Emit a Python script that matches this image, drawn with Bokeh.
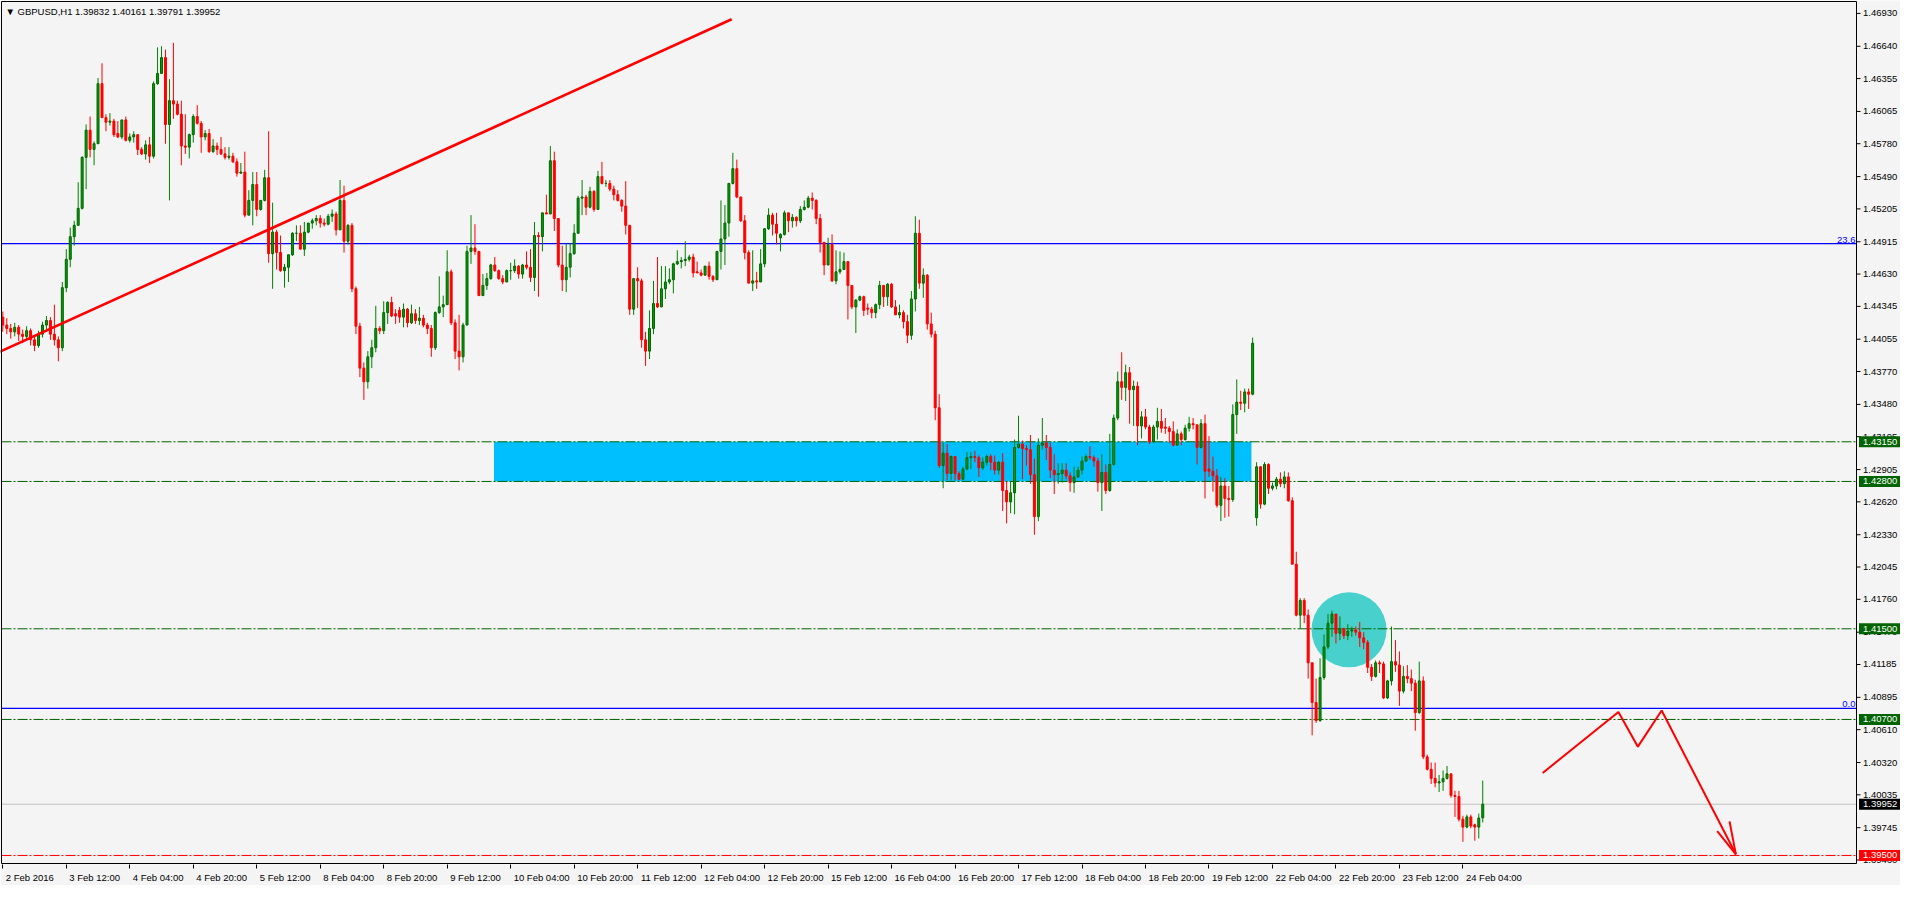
from bokeh.plotting import figure
from bokeh.models import Range1d, FixedTicker, Label, ColumnDataSource
from bokeh.core.properties import value
from bokeh.embed import file_html
from bokeh.resources import INLINE

# ---------------- data (GBPUSD H1) ----------------
opens = [
1.4425,1.4418,1.4415,1.4412,1.4416,1.4410,1.4408,1.4413,1.4405,1.4400,
1.4410,1.4418,1.4422,1.4410,1.4405,1.4398,1.4451,1.4476,1.4496,1.4506,
1.4521,1.4566,1.4590,1.4573,1.4578,1.4631,1.4601,1.4597,1.4598,1.4587,
1.4584,1.4599,1.4581,1.4584,1.4586,1.4573,1.4569,1.4577,1.4567,1.4631,
1.4640,1.4654,1.4595,1.4616,1.4613,1.4604,1.4576,1.4575,1.4586,1.4602,
1.4596,1.4584,1.4587,1.4571,1.4576,1.4573,1.4569,1.4566,1.4567,1.4562,
1.4552,1.4553,1.4515,1.4528,1.4542,1.4520,1.4528,1.4548,1.4481,1.4500,
1.4482,1.4466,1.4469,1.4480,1.4499,1.4499,1.4485,1.4500,1.4508,1.4510,
1.4512,1.4508,1.4507,1.4514,1.4516,1.4502,1.4528,1.4492,1.4506,1.4450,
1.4417,1.4380,1.4368,1.4390,1.4398,1.4415,1.4413,1.4429,1.4438,1.4428,
1.4431,1.4425,1.4432,1.4420,1.4428,1.4422,1.4424,1.4418,1.4415,1.4398,
1.4429,1.4434,1.4436,1.4465,1.4420,1.4395,1.4390,1.4418,1.4483,1.4486,
1.4483,1.4444,1.4453,1.4459,1.4471,1.4466,1.4459,1.4456,1.4466,1.4466,
1.4470,1.4463,1.4471,1.4469,1.4460,1.4497,1.4496,1.4517,1.4516,1.4563,
1.4512,1.4471,1.4458,1.4469,1.4481,1.4499,1.4530,1.4531,1.4522,1.4536,
1.4520,1.4549,1.4543,1.4543,1.4538,1.4533,1.4528,1.4523,1.4506,1.4432,
1.4459,1.4457,1.4405,1.4395,1.4415,1.4437,1.4434,1.4450,1.4456,1.4458,
1.4472,1.4474,1.4475,1.4476,1.4478,1.4465,1.4464,1.4462,1.4470,1.4461,
1.4458,1.4483,1.4494,1.4508,1.4543,1.4556,1.4531,1.4510,1.4482,1.4455,
1.4457,1.4456,1.4472,1.4503,1.4515,1.4507,1.4495,1.4498,1.4517,1.4510,
1.4513,1.4510,1.4520,1.4522,1.4530,1.4528,1.4512,1.4491,1.4471,1.4489,
1.4457,1.4465,1.4467,1.4474,1.4453,1.4434,1.4440,1.4443,1.4433,1.4432,
1.4429,1.4436,1.4453,1.4443,1.4454,1.4434,1.4427,1.4429,1.4421,1.4409,
1.4441,1.4499,1.4455,1.4462,1.4419,1.4410,1.4345,1.4294,1.4305,1.4287,
1.4302,1.4287,1.4282,1.4291,1.4301,1.4302,1.4301,1.4292,1.4297,1.4302,
1.4297,1.4290,1.4297,1.4272,1.4262,1.4270,1.4310,1.4313,1.4309,1.4308,
1.4286,1.4249,1.4312,1.4314,1.4310,1.4290,1.4286,1.4287,1.4290,1.4285,
1.4279,1.4284,1.4290,1.4298,1.4302,1.4301,1.4298,1.4279,1.4288,1.4272,
1.4295,1.4336,1.4368,1.4363,1.4376,1.4361,1.4364,1.4329,1.4337,1.4328,
1.4315,1.4328,1.4333,1.4328,1.4327,1.4324,1.4312,1.4322,1.4317,1.4327,
1.4331,1.4330,1.4310,1.4331,1.4291,1.4289,1.4285,1.4259,1.4276,1.4265,
1.4264,1.4339,1.4350,1.4349,1.4359,1.4357,1.4248,1.4293,1.4260,1.4295,
1.4274,1.4276,1.4282,1.4278,1.4284,1.4263,1.4207,1.4162,1.4175,1.4162,
1.4120,1.4085,1.4069,1.4107,1.4134,1.4155,1.4163,1.4146,1.4150,1.4144,
1.4148,1.4149,1.4147,1.4142,1.4138,1.4116,1.4108,1.4120,1.4119,1.4089,
1.4104,1.4121,1.4118,1.4095,1.4108,1.4106,1.4102,1.4076,1.4104,1.4037,
1.4026,1.4018,1.4014,1.4015,1.4018,1.4022,1.4003,1.4002,1.3982,1.3975,
1.3984,1.3977,1.3975,1.39832]

highs = [
1.4430,1.4424,1.4419,1.4420,1.4418,1.4414,1.4417,1.4415,1.4409,1.4413,
1.4421,1.4426,1.4425,1.4436,1.4408,1.4456,1.4485,1.4504,1.4510,1.4544,
1.4567,1.4595,1.4602,1.4580,1.4636,1.4649,1.4604,1.4605,1.4600,1.4598,
1.4599,1.4602,1.4587,1.4589,1.4586,1.4575,1.4581,1.4584,1.4633,1.4663,
1.4664,1.4661,1.4635,1.4667,1.4616,1.4616,1.4604,1.4587,1.4604,1.4612,
1.4598,1.4590,1.4591,1.4582,1.4579,1.4584,1.4575,1.4575,1.4570,1.4565,
1.4561,1.4571,1.4537,1.4553,1.4553,1.4528,1.4555,1.4589,1.4526,1.4502,
1.4497,1.4472,1.4480,1.4500,1.4506,1.4506,1.4509,1.4508,1.4512,1.4515,
1.4515,1.4512,1.4516,1.4520,1.4518,1.4546,1.4541,1.4507,1.4508,1.4452,
1.4420,1.4385,1.4395,1.4405,1.4435,1.4417,1.4439,1.4439,1.4443,1.4432,
1.4434,1.4437,1.4433,1.4436,1.4432,1.4434,1.4427,1.4420,1.4418,1.4430,
1.4461,1.4444,1.4484,1.4467,1.4423,1.4427,1.4420,1.4488,1.4515,1.4507,
1.4483,1.4463,1.4464,1.4472,1.4478,1.4467,1.4462,1.4467,1.4473,1.4476,
1.4471,1.4472,1.4483,1.4485,1.4509,1.4500,1.4517,1.4533,1.4576,1.4571,
1.4512,1.4488,1.4490,1.4490,1.4507,1.4532,1.4546,1.4533,1.4540,1.4537,
1.4554,1.4562,1.4546,1.4546,1.4541,1.4537,1.4529,1.4545,1.4506,1.4459,
1.4469,1.4459,1.4412,1.4431,1.4457,1.4478,1.4470,1.4470,1.4468,1.4473,
1.4484,1.4478,1.4492,1.4480,1.4481,1.4474,1.4467,1.4470,1.4474,1.4462,
1.4483,1.4528,1.4524,1.4543,1.4570,1.4564,1.4531,1.4515,1.4484,1.4484,
1.4465,1.4485,1.4503,1.4521,1.4517,1.4517,1.4499,1.4519,1.4517,1.4516,
1.4514,1.4523,1.4528,1.4532,1.4535,1.4529,1.4516,1.4491,1.4495,1.4498,
1.4484,1.4483,1.4482,1.4474,1.4453,1.4441,1.4444,1.4444,1.4437,1.4434,
1.4437,1.4457,1.4453,1.4455,1.4455,1.4440,1.4436,1.4431,1.4427,1.4448,
1.4514,1.4511,1.4468,1.4463,1.4429,1.4413,1.4357,1.4314,1.4313,1.4303,
1.4302,1.4289,1.4293,1.4306,1.4306,1.4307,1.4303,1.4301,1.4304,1.4304,
1.4303,1.4298,1.4305,1.4280,1.4280,1.4317,1.4338,1.4316,1.4312,1.4321,
1.4300,1.4318,1.4336,1.4321,1.4314,1.4304,1.4296,1.4296,1.4296,1.4288,
1.4293,1.4293,1.4302,1.4304,1.4311,1.4303,1.4301,1.4304,1.4295,1.4322,
1.4339,1.4377,1.4394,1.4383,1.4381,1.4369,1.4368,1.4342,1.4344,1.4330,
1.4330,1.4345,1.4344,1.4336,1.4329,1.4333,1.4326,1.4324,1.4330,1.4337,
1.4336,1.4330,1.4335,1.4339,1.4320,1.4302,1.4291,1.4284,1.4283,1.4276,
1.4348,1.4370,1.4360,1.4362,1.4362,1.4407,1.4297,1.4293,1.4297,1.4296,
1.4279,1.4284,1.4288,1.4289,1.4288,1.4266,1.4218,1.4177,1.4177,1.4167,
1.4120,1.4106,1.4124,1.4145,1.4163,1.4166,1.4163,1.4161,1.4151,1.4154,
1.4152,1.4152,1.4156,1.4147,1.4140,1.4119,1.4122,1.4122,1.4121,1.4105,
1.4152,1.4140,1.4130,1.4117,1.4118,1.4114,1.4105,1.4121,1.4108,1.4039,
1.4032,1.4032,1.4021,1.4025,1.4029,1.4022,1.4007,1.4007,1.3985,1.3986,
1.3986,1.3978,1.3987,1.40161]

lows = [
1.4412,1.4410,1.4406,1.4408,1.4404,1.4402,1.4405,1.4400,1.4395,1.4398,
1.4407,1.4414,1.4405,1.4400,1.4386,1.4395,1.4447,1.4469,1.4488,1.4506,
1.4520,1.4538,1.4566,1.4559,1.4578,1.4601,1.4589,1.4594,1.4584,1.4583,
1.4582,1.4580,1.4579,1.4579,1.4568,1.4568,1.4564,1.4561,1.4565,1.4630,
1.4640,1.4578,1.4528,1.4600,1.4603,1.4559,1.4569,1.4565,1.4579,1.4595,
1.4570,1.4581,1.4570,1.4570,1.4568,1.4568,1.4564,1.4564,1.4561,1.4549,
1.4552,1.4513,1.4515,1.4506,1.4514,1.4519,1.4527,1.4473,1.4450,1.4467,
1.4465,1.4451,1.4456,1.4479,1.4492,1.4485,1.4479,1.4499,1.4503,1.4506,
1.4504,1.4505,1.4506,1.4509,1.4497,1.4502,1.4482,1.4489,1.4447,1.4410,
1.4372,1.4352,1.4362,1.4380,1.4394,1.4410,1.4410,1.4419,1.4425,1.4419,
1.4420,1.4416,1.4416,1.4419,1.4419,1.4418,1.4416,1.4410,1.4390,1.4396,
1.4428,1.4425,1.4436,1.4418,1.4388,1.4378,1.4385,1.4418,1.4472,1.4480,
1.4444,1.4444,1.4449,1.4458,1.4465,1.4458,1.4454,1.4456,1.4458,1.4464,
1.4459,1.4459,1.4467,1.4456,1.4448,1.4443,1.4483,1.4516,1.4516,1.4501,
1.4469,1.4448,1.4447,1.4460,1.4480,1.4499,1.4515,1.4515,1.4521,1.4518,
1.4520,1.4542,1.4540,1.4536,1.4528,1.4527,1.4518,1.4498,1.4427,1.4427,
1.4433,1.4398,1.4382,1.4388,1.4410,1.4433,1.4434,1.4441,1.4454,1.4446,
1.4471,1.4468,1.4470,1.4474,1.4460,1.4464,1.4461,1.4462,1.4458,1.4456,
1.4458,1.4467,1.4471,1.4496,1.4542,1.4530,1.4509,1.4476,1.4455,1.4448,
1.4450,1.4456,1.4469,1.4502,1.4497,1.4489,1.4483,1.4497,1.4500,1.4504,
1.4505,1.4508,1.4519,1.4521,1.4520,1.4507,1.4482,1.4462,1.4471,1.4456,
1.4454,1.4463,1.4467,1.4423,1.4432,1.4411,1.4439,1.4426,1.4427,1.4424,
1.4424,1.4432,1.4434,1.4435,1.4433,1.4427,1.4424,1.4415,1.4402,1.4405,
1.4430,1.4450,1.4442,1.4414,1.4407,1.4334,1.4292,1.4274,1.4281,1.4281,
1.4281,1.4281,1.4281,1.4290,1.4291,1.4297,1.4284,1.4290,1.4294,1.4290,
1.4286,1.4286,1.4254,1.4243,1.4252,1.4251,1.4309,1.4282,1.4294,1.4278,
1.4233,1.4245,1.4308,1.4299,1.4283,1.4269,1.4278,1.4279,1.4282,1.4271,
1.4270,1.4283,1.4286,1.4297,1.4299,1.4293,1.4271,1.4254,1.4269,1.4271,
1.4294,1.4334,1.4352,1.4351,1.4331,1.4329,1.4312,1.4318,1.4326,1.4313,
1.4314,1.4317,1.4323,1.4322,1.4314,1.4311,1.4312,1.4312,1.4316,1.4324,
1.4326,1.4295,1.4309,1.4265,1.4284,1.4271,1.4257,1.4245,1.4248,1.4249,
1.4262,1.4322,1.4343,1.4341,1.4344,1.4356,1.4241,1.4256,1.4259,1.4269,
1.4272,1.4273,1.4275,1.4274,1.4262,1.4207,1.4161,1.4150,1.4155,1.4106,
1.4056,1.4067,1.4068,1.4105,1.4132,1.4143,1.4137,1.4140,1.4141,1.4140,
1.4143,1.4144,1.4134,1.4132,1.4111,1.4104,1.4107,1.4111,1.4088,1.4088,
1.4100,1.4112,1.4082,1.4093,1.4102,1.4095,1.4060,1.4075,1.4035,1.4025,
1.4013,1.4010,1.4006,1.4007,1.4017,1.4001,1.3984,1.3980,1.3962,1.3974,
1.3974,1.3963,1.3965,1.39791]

closes = [
1.4418,1.4415,1.4412,1.4416,1.4410,1.4408,1.4413,1.4405,1.4400,1.4410,
1.4418,1.4422,1.4410,1.4405,1.4398,1.4451,1.4476,1.4496,1.4506,1.4521,
1.4566,1.4590,1.4573,1.4578,1.4631,1.4601,1.4597,1.4598,1.4586,1.4584,
1.4599,1.4581,1.4584,1.4586,1.4573,1.4569,1.4577,1.4567,1.4631,1.4640,
1.4654,1.4595,1.4616,1.4613,1.4604,1.4576,1.4575,1.4586,1.4602,1.4596,
1.4584,1.4587,1.4571,1.4576,1.4573,1.4569,1.4566,1.4567,1.4562,1.4552,
1.4553,1.4515,1.4528,1.4542,1.4520,1.4528,1.4548,1.4481,1.4500,1.4482,
1.4466,1.4469,1.4480,1.4499,1.4499,1.4485,1.4500,1.4508,1.4510,1.4512,
1.4508,1.4507,1.4514,1.4516,1.4502,1.4528,1.4492,1.4506,1.4450,1.4417,
1.4380,1.4368,1.4390,1.4398,1.4415,1.4413,1.4429,1.4438,1.4426,1.4426,
1.4425,1.4432,1.4420,1.4428,1.4422,1.4424,1.4418,1.4415,1.4398,1.4429,
1.4434,1.4436,1.4465,1.4420,1.4395,1.4390,1.4418,1.4483,1.4486,1.4483,
1.4444,1.4453,1.4459,1.4471,1.4466,1.4459,1.4456,1.4466,1.4466,1.4470,
1.4463,1.4471,1.4469,1.4460,1.4497,1.4496,1.4517,1.4516,1.4563,1.4512,
1.4471,1.4458,1.4469,1.4481,1.4499,1.4530,1.4531,1.4522,1.4536,1.4520,
1.4549,1.4543,1.4543,1.4538,1.4533,1.4528,1.4523,1.4506,1.4432,1.4459,
1.4457,1.4405,1.4395,1.4415,1.4437,1.4434,1.4450,1.4456,1.4458,1.4472,
1.4474,1.4475,1.4476,1.4478,1.4464,1.4464,1.4462,1.4470,1.4461,1.4458,
1.4483,1.4494,1.4508,1.4543,1.4556,1.4531,1.4510,1.4482,1.4455,1.4457,
1.4456,1.4472,1.4503,1.4515,1.4507,1.4499,1.4498,1.4517,1.4510,1.4513,
1.4510,1.4520,1.4522,1.4530,1.4528,1.4512,1.4491,1.4471,1.4489,1.4457,
1.4465,1.4467,1.4474,1.4453,1.4434,1.4440,1.4443,1.4431,1.4432,1.4429,
1.4436,1.4453,1.4443,1.4454,1.4434,1.4427,1.4429,1.4421,1.4409,1.4441,
1.4499,1.4455,1.4462,1.4419,1.4410,1.4345,1.4294,1.4305,1.4287,1.4302,
1.4287,1.4282,1.4291,1.4301,1.4302,1.4301,1.4292,1.4297,1.4302,1.4297,
1.4290,1.4297,1.4272,1.4262,1.4270,1.4310,1.4313,1.4309,1.4308,1.4286,
1.4249,1.4312,1.4314,1.4310,1.4290,1.4286,1.4287,1.4290,1.4285,1.4279,
1.4284,1.4290,1.4298,1.4302,1.4301,1.4298,1.4279,1.4288,1.4272,1.4295,
1.4336,1.4368,1.4363,1.4376,1.4361,1.4364,1.4329,1.4337,1.4328,1.4315,
1.4328,1.4333,1.4327,1.4327,1.4324,1.4312,1.4322,1.4317,1.4327,1.4331,
1.4330,1.4310,1.4331,1.4289,1.4289,1.4285,1.4259,1.4276,1.4265,1.4264,
1.4339,1.4350,1.4349,1.4359,1.4357,1.4402,1.4293,1.4260,1.4295,1.4274,
1.4276,1.4282,1.4278,1.4284,1.4263,1.4207,1.4162,1.4175,1.4162,1.4120,
1.4085,1.4069,1.4107,1.4134,1.4155,1.4163,1.4146,1.4150,1.4144,1.4148,
1.4149,1.4147,1.4142,1.4138,1.4116,1.4108,1.4120,1.4119,1.4089,1.4104,
1.4121,1.4118,1.4095,1.4108,1.4106,1.4102,1.4076,1.4104,1.4037,1.4026,
1.4018,1.4014,1.4015,1.4018,1.4022,1.4003,1.4002,1.3982,1.3975,1.3984,
1.3976,1.3975,1.3983,1.39952]

date_tick_bars = [0, 16, 32, 48, 64, 80, 96, 112, 128, 144, 160, 176, 192,
                  208, 224, 240, 256, 272, 288, 304, 320, 336, 352, 368]
date_labels = ["2 Feb 2016", "3 Feb 12:00", "4 Feb 04:00", "4 Feb 20:00", "5 Feb 12:00",
               "8 Feb 04:00", "8 Feb 20:00", "9 Feb 12:00", "10 Feb 04:00", "10 Feb 20:00",
               "11 Feb 12:00", "12 Feb 04:00", "12 Feb 20:00", "15 Feb 12:00", "16 Feb 04:00",
               "16 Feb 20:00", "17 Feb 12:00", "18 Feb 04:00", "18 Feb 20:00", "19 Feb 12:00",
               "22 Feb 04:00", "22 Feb 20:00", "23 Feb 12:00", "24 Feb 04:00"]

price_ticks = [1.46930, 1.46640, 1.46355, 1.46065, 1.45780, 1.45490, 1.45205, 1.44915,
               1.44630, 1.44345, 1.44055, 1.43770, 1.43480, 1.43195, 1.42905, 1.42620,
               1.42330, 1.42045, 1.41760, 1.41470, 1.41185, 1.40895, 1.40610, 1.40320,
               1.40035, 1.39745, 1.39460]

# horizontal levels
green_levels = [1.43150, 1.42800, 1.41500, 1.40700]
red_level = 1.39500
bid_level = 1.39952
fib_levels = [1.44898, 1.40797]
fib_texts = ["23.6", "0.0"]

# drawn objects (bar index, price)
zone_bars = [123.8, 314.7]
zone_prices = [1.42800, 1.43150]
circle_bar = [339.3]
circle_price = [1.41491]
trend_bars = [-0.83, 183.7]
trend_prices = [1.43944, 1.46878]
zig_bars = [388.1, 407.2, 412.1, 418.1, 436.8]
zig_prices = [1.40228, 1.40765, 1.40460, 1.40779, 1.39510]
head_bars = [432.1, 435.2]
head_prices = [1.39714, 1.39801]

title_text = "\u25BC GBPUSD,H1  1.39832 1.40161 1.39791 1.39952"

# chart window (bars / prices) and the price-scale strip to its right
XB0, XB1 = -0.33, 467.2          # chart border in bar units
YB0, YB1 = 1.39429, 1.47035      # chart border in price units
FRAME_W, FRAME_H = 1900, 864
STRIP_PX = 44                    # width of the price scale strip
FONT = "Liberation Sans"
FS = 9.5

PX = (FRAME_W - STRIP_PX - 1.0) / (XB1 - XB0)     # pixels per bar
XF0 = XB0 - 1.0 / PX
XF1 = XF0 + FRAME_W / PX
ypad = (YB1 - YB0) * 1.0 / (FRAME_H - 2)
YF0, YF1 = YB0 - ypad, YB1 + ypad

n = min(len(opens), len(highs), len(lows), len(closes))
up = dict(x=[], top=[], bottom=[], hi=[], lo=[])
dn = dict(x=[], top=[], bottom=[], hi=[], lo=[])
for i in range(n):
    o, h, l, c = opens[i], highs[i], lows[i], closes[i]
    d = up if c >= o else dn
    d["x"].append(i)
    d["top"].append(max(o, c))
    d["bottom"].append(min(o, c))
    d["hi"].append(h)
    d["lo"].append(l)
src_up = ColumnDataSource(up)
src_dn = ColumnDataSource(dn)

p = figure(frame_width=FRAME_W, frame_height=FRAME_H, output_backend="svg", toolbar_location=None,
           x_range=Range1d(XF0, XF1), y_range=Range1d(YF0, YF1), y_axis_location=None,
           min_border_left=0, min_border_top=0, min_border_right=0, min_border_bottom=0)
p.background_fill_color = "#F4F4F4"
p.border_fill_color = "#F4F4F4"
p.outline_line_color = None
p.xgrid.visible = False
p.ygrid.visible = False

# zone rectangle and circle
p.quad(left=[zone_bars[0]], right=[zone_bars[1]], bottom=[zone_prices[0]], top=[zone_prices[1]],
       fill_color="#00BFFF", line_color=None)
p.scatter(x=circle_bar, y=circle_price, size=75, marker="circle",
          fill_color="#48D1CC", line_color=None)

# horizontal lines
for lv in green_levels:
    p.segment(x0=[XB0], x1=[XB1], y0=[lv], y1=[lv], line_color="#006400", line_width=1,
              line_dash="10 2 2 2")
p.segment(x0=[XB0], x1=[XB1], y0=[red_level], y1=[red_level], line_color="#FF0000",
          line_width=1, line_dash="10 2 2 2")
p.segment(x0=[XB0], x1=[XB1], y0=[bid_level], y1=[bid_level], line_color="#C0C0C0", line_width=1)
for lv in fib_levels:
    p.segment(x0=[XB0], x1=[XB1], y0=[lv], y1=[lv], line_color="#0000FF", line_width=1.2)

# candles
p.segment(x0="x", x1="x", y0="lo", y1="hi", source=src_up, line_color="#008000", line_width=1)
p.segment(x0="x", x1="x", y0="lo", y1="hi", source=src_dn, line_color="#FF0000", line_width=1)
p.vbar(x="x", width=0.5, top="top", bottom="bottom", source=src_up,
       fill_color="#00A000", line_color="#006400", line_width=1)
p.vbar(x="x", width=0.5, top="top", bottom="bottom", source=src_dn,
       fill_color="#FF0000", line_color="#FF0000", line_width=1)

# trend line and projected path
p.line(trend_bars, trend_prices, line_color="#FF0000", line_width=2.6)
p.line(zig_bars, zig_prices, line_color="#FF0000", line_width=2)
for hb, hp in zip(head_bars, head_prices):
    p.line([hb, zig_bars[-1]], [hp, zig_prices[-1]], line_color="#FF0000", line_width=2)

# chart border
p.quad(left=[XB0], right=[XB1], bottom=[YB0], top=[YB1], fill_color=None,
       line_color="black", line_width=1)

# price scale (right strip): ticks, labels, level tags
tick_len = 4.0 / PX
lab_x = XB1 + 6.5 / PX
p.segment(x0=[XB1] * len(price_ticks), x1=[XB1 + tick_len] * len(price_ticks),
          y0=price_ticks, y1=price_ticks, line_color="black", line_width=1)
p.text(x=[lab_x] * len(price_ticks), y=price_ticks, text=["%.5f" % t for t in price_ticks],
       text_font=value(FONT), text_font_size=value("%spx" % FS), text_color="black",
       text_baseline="middle", text_align="left")

tag_levels = green_levels + [bid_level, red_level]
tag_colors = ["#006400"] * len(green_levels) + ["#000000", "#FF0000"]
tag_left = XB1 + 2.5 / PX
p.rect(x=[(tag_left + XF1 + 1) / 2] * len(tag_levels), y=tag_levels,
       width=(XF1 + 1 - tag_left), height=11, height_units="screen",
       fill_color=tag_colors, line_color=None)
p.text(x=[lab_x] * len(tag_levels), y=tag_levels, text=["%.5f" % t for t in tag_levels],
       text_font=value(FONT), text_font_size=value("%spx" % FS), text_color="white",
       text_baseline="middle", text_align="left")

# x axis: tick marks as minor ticks at bar positions, labels left-aligned after each tick
CW = {" ": .278, ":": .278, "F": .611}
lab_pos = []
for b, t in zip(date_tick_bars, date_labels):
    w = sum(CW.get(ch, .556) for ch in t) * FS
    lab_pos.append(round(b + (w / 2 + 3) / PX, 3))
xa = p.xaxis[0]
xa.ticker = FixedTicker(ticks=lab_pos, minor_ticks=date_tick_bars)
xa.major_label_overrides = {pos: t for pos, t in zip(lab_pos, date_labels)}
xa.axis_line_color = None
xa.major_tick_line_color = None
xa.major_tick_out = 0
xa.major_tick_in = 0
xa.minor_tick_line_color = "black"
xa.minor_tick_out = 4
xa.minor_tick_in = 0
xa.major_label_standoff = 3
xa.major_label_text_font = FONT
xa.major_label_text_font_size = "%spx" % FS
xa.major_label_text_color = "black"

# fib texts
for lv, t in zip(fib_levels, fib_texts):
    p.add_layout(Label(x=XB1, y=lv, x_offset=-1, y_offset=1, text=t, text_font=FONT,
                       text_font_size="%spx" % FS, text_color="#0000FF", text_baseline="bottom",
                       text_align="right"))

# title
p.add_layout(Label(x=XB0, y=YB1, x_offset=4, y_offset=-4, text=title_text, text_font=FONT,
                   text_font_size="%spx" % FS, text_color="black", text_baseline="top",
                   text_align="left"))

open("out.html", "w").write(file_html(p, INLINE))
